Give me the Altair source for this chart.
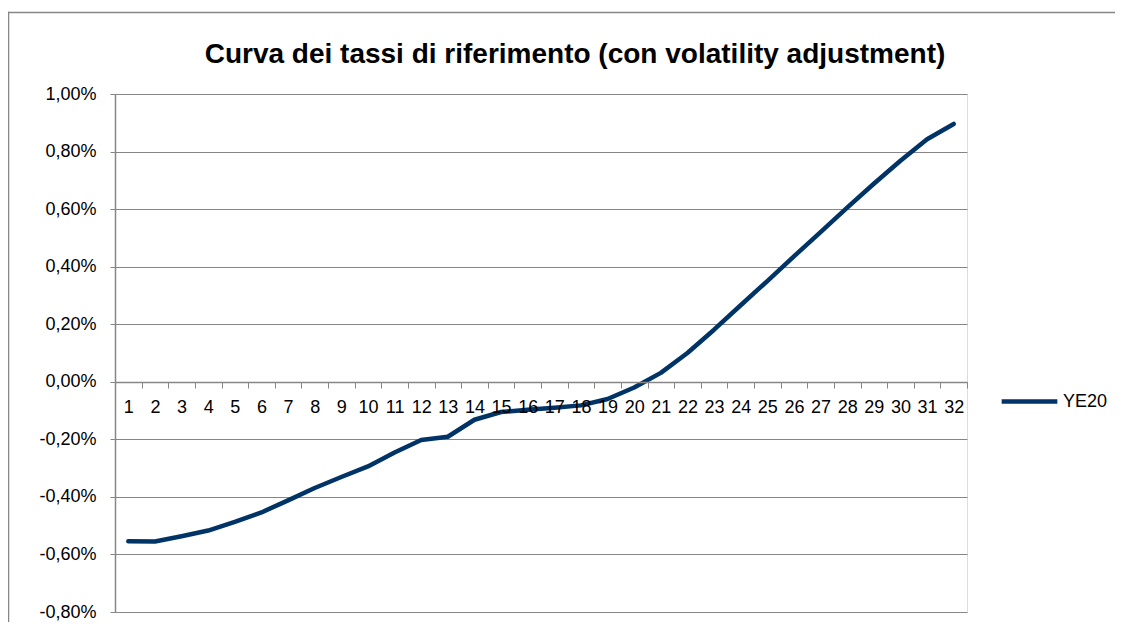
import altair as alt
import pandas as pd

maturities = list(range(1, 33))
ye20 = [-0.554, -0.555, -0.537, -0.517, -0.487, -0.454, -0.412, -0.369, -0.331, -0.294,
        -0.246, -0.202, -0.191, -0.132, -0.105, -0.097, -0.090, -0.082, -0.060, -0.020,
        0.031, 0.100, 0.181, 0.266, 0.350, 0.436, 0.520, 0.605, 0.688, 0.768, 0.843, 0.896]
series_name = "YE20"
y_ticks = [-0.8, -0.6, -0.4, -0.2, 0.0, 0.2, 0.4, 0.6, 0.8, 1.0]
title_text = "Curva dei tassi di riferimento (con volatility adjustment)"

df = pd.DataFrame({"t": maturities, "v": ye20, "serie": series_name})

GRAY = "#868686"
NAVY = "#003366"

line = alt.Chart(df).mark_line(strokeWidth=4.5, strokeCap="round", strokeJoin="round").encode(
    x=alt.X("t:O", sort=maturities,
            scale=alt.Scale(type="band", paddingInner=0, paddingOuter=0),
            axis=alt.Axis(title=None, labelAngle=0, offset=-230, tickBand="extent",
                          tickSize=6, tickColor=GRAY, domainColor=GRAY, domainWidth=1.5,
                          labelFont="Liberation Sans", labelFontSize=18, labelColor="#000000",
                          labelPadding=10, grid=False, zindex=1)),
    y=alt.Y("v:Q", scale=alt.Scale(domain=[-0.8, 1.0], nice=False, zero=False),
            axis=alt.Axis(title=None, values=y_ticks, tickSize=5, tickColor=GRAY,
                          domainColor=GRAY, domainWidth=1.5, gridColor=GRAY, gridWidth=1.2,
                          labelFont="Liberation Sans", labelFontSize=18, labelColor="#000000",
                          labelPadding=14,
                          labelExpr="replace(replace(format(datum.value, '.2f'), '.', ','), '\u2212', '-') + '%'")),
    color=alt.Color("serie:N", scale=alt.Scale(range=[NAVY]),
                    legend=alt.Legend(title=None, orient="none", legendX=884, legendY=277,
                                      symbolType="stroke", symbolSize=3100, symbolStrokeWidth=4.5,
                                      labelFont="Liberation Sans", labelFontSize=18,
                                      labelColor="#000000", labelOffset=3)),
)

one = pd.DataFrame({"b": [0]})
border_top = alt.Chart(one).mark_rect(fill=GRAY, strokeWidth=0, clip=False).encode(
    x=alt.value(-107.25), x2=alt.value(1000), y=alt.value(-82.25), y2=alt.value(-80.75))
border_left = alt.Chart(one).mark_rect(fill=GRAY, strokeWidth=0, clip=False).encode(
    x=alt.value(-107.25), x2=alt.value(-105.75), y=alt.value(-82.25), y2=alt.value(540))

title = alt.Chart(pd.DataFrame({"txt": [title_text]})).mark_text(
    font="Liberation Sans", fontSize=28, fontWeight="bold", color="#000000",
    align="center", baseline="alphabetic", clip=False
).encode(text="txt:N", x=alt.value(460), y=alt.value(-31))

chart = alt.layer(border_top, border_left, title, line).properties(
    width=852, height=518,
    autosize=alt.AutoSizeParams(type="none"),
    padding={"left": 107, "top": 86, "right": 151, "bottom": 10},
).configure_view(stroke=None).configure(background="#ffffff")

chart.save("out.html", embed_options={"renderer": "svg", "actions": False})
